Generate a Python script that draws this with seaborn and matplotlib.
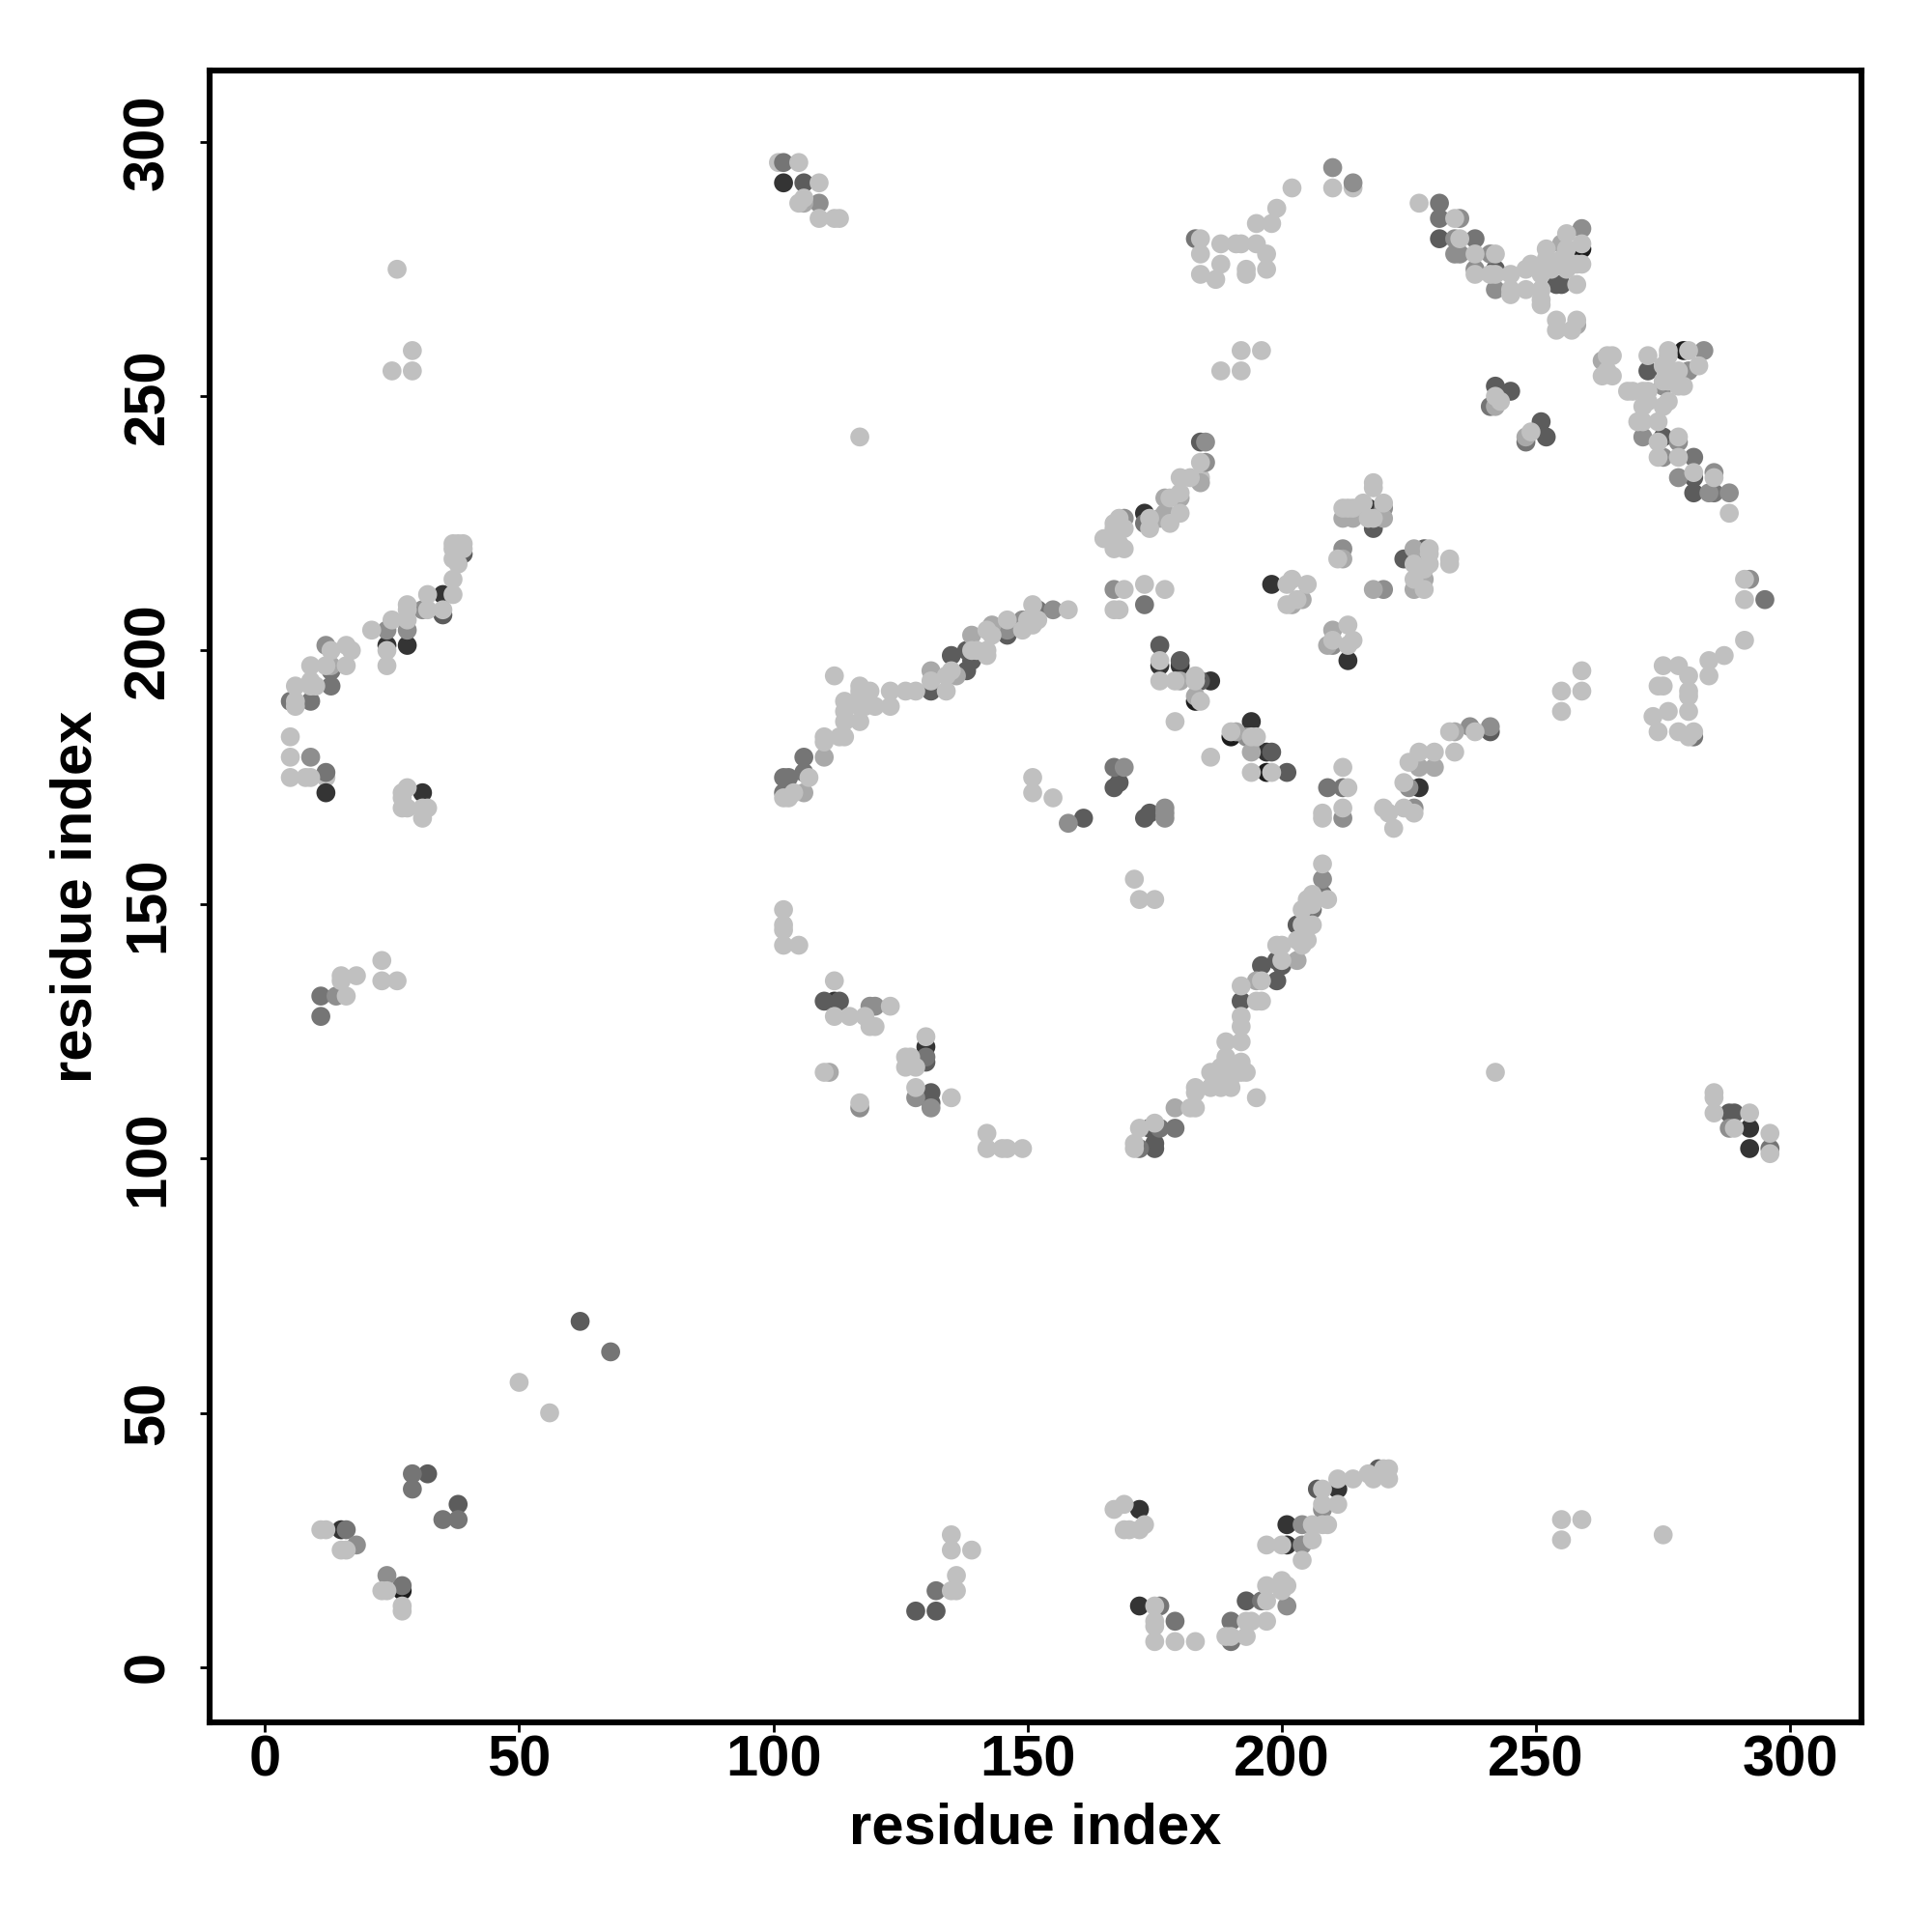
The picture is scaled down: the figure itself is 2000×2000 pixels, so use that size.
import matplotlib
matplotlib.use('Agg')
import matplotlib.pyplot as plt
import pandas as pd
import seaborn as sns

# contacts, grouped by shade, (residue i, residue j)
under = [(214,291),(12,175),(101,296),(184,234)]
black = [(183,190),(190,183),(197,176),(259,279),(279,259),(27,15)]
dark = [(173,227),(176,197),(180,197),(186,194),(194,186),(198,213),(213,198),(227,173),(217,228),
        (228,218),(102,292),(112,131),(130,122),(292,106),(292,102),(15,27),(172,31),(172,12),(201,24),(201,28),(211,35),
        (35,211),(24,201),(28,201),(12,172),(31,172),(197,180)]
mid_dark = [(184,241),(176,201),(184,194),(180,198),(198,180),(201,176),(167,173),(168,174),(161,167),
            (173,167),(174,168),(218,224),(224,218),(228,220),(241,184),(146,203),(138,200),(139,198),(135,199),(138,196),
            (203,146),(199,139),(200,138),(196,138),(199,135),(174,106),(231,281),(242,275),(255,272),(254,272),(242,252),
            (245,251),(251,245),(252,242),(275,242),(281,234),(281,231),(272,255),(131,192),(192,131),(175,102),(175,103),
            (106,292),(113,131),(110,131),(131,113),(131,111),(130,119),(288,109),(289,109),(62,68),(32,38),
            (38,32),(39,219),(35,207),(207,35),(193,13),(219,39),(128,11),(132,11)]
mid = [(209,173),(212,173),(167,177),(102,175),(103,175),(102,172),(106,179),(106,176),(152,208),(206,149),(208,152),(176,106),
       (179,106),(172,102),(231,288),(231,285),(238,281),(281,238),(285,231),(241,248),(248,241),(281,183),(102,296),(11,132),
       (11,128),(130,120),(296,102),(295,210),(16,27),(27,16),(29,38),(29,35),(35,29),(38,29),(132,15),(176,12),(179,9),(190,9),
       (190,5),(196,13),(13,193),(9,190),(5,190),(13,196),(12,176),(173,225),(173,209),(183,281),(68,62)]
mid_light = [(210,295),(214,292),(158,166),(169,226),(167,212),(193,183),(169,177),(177,169),(177,167),(177,168),(212,167),
             (225,173),(226,169),(220,228),(237,185),(241,185),(185,241),(185,237),(155,208),(149,206),(208,155),(234,278),(235,278),
             (234,281),(235,285),(238,275),(241,278),(242,271),(259,283),(283,259),(280,255),(275,238),
             (278,234),(285,235),(288,231),(284,231),(278,241),(271,242),(275,252),(146,204),(210,201),(212,220),(220,212),
             (119,130),(120,130),(109,288),(117,110),(128,112),(131,110),(288,106),(292,214),(14,132),(18,24),(24,18),(204,28),
             (204,24),(208,31),(201,12),(12,201),(9,179),(24,204),(28,204),(31,208)]
soft = [(177,230),(180,230),(177,227),(176,226),(184,233),(183,191),(180,194),(191,184),(194,180),(204,210),(202,209),(210,204),
        (209,201),(212,218),(218,212),(226,220),(226,212),(228,214),(212,226),(214,226),(220,226),(227,177),(230,177),(234,184),
        (139,203),(136,195),(110,179),(106,172),(203,139),(195,135),(179,110),(251,275),(255,280),(258,264),(263,257),(248,242),
        (242,248),(106,288),(111,117),(13,197),(143,205),(131,196)]
light = [(210,291),(202,291),(199,287),(195,284),(198,284),(184,281),(184,278),(188,280),(191,280),(192,280),(195,280),(197,278),
         (188,276),(184,274),(187,273),(193,275),(193,274),(197,275),(192,259),(196,259),(188,255),(192,255),(184,237),(180,234),
         (182,234),(178,230),(180,231),(180,227),(174,226),(174,224),(178,225),(168,226),(167,225),(169,224),(167,224),
         (165,222),(167,220),(169,220),(168,221),(169,212),(173,213),(177,212),(158,208),(167,208),(168,208),(176,198),(176,194),
         (179,194),(183,195),(183,194),(184,190),(179,186),(190,184),(194,183),(195,183),(194,176),(198,176),(186,179),(208,167),
         (208,168),(212,177),(213,173),(212,169),(220,169),(221,168),(222,165),(224,169),(226,168),(224,174),(225,178),(227,180),
         (230,180),(233,184),(234,180),(238,184),(202,214),(205,213),(201,213),(201,209),(203,210),(213,205),(210,202),(214,202),
         (213,201),(211,218),(218,233),(218,232),(212,228),(213,228),(214,228),(216,229),(217,226),(220,229),(218,226),(228,216),
         (229,220),(226,217),(229,217),(233,218),(233,217),(226,214),(228,212),(229,219),(151,209),(152,206),(151,205),(150,206),
         (149,204),(146,206),(143,203),(142,204),(142,200),(142,199),(140,200),(139,200),(135,196),(134,195),(131,194),(134,192),
         (128,192),(126,192),(123,192),(123,189),(120,189),(117,193),(119,192),(118,192),(117,192),(117,191),(118,191),(114,190),
         (114,188),(117,189),(118,189),(117,186),(114,186),(112,195),(110,183),(110,182),(113,183),(114,183),(107,175),(102,171),
         (103,171),(104,172),(151,175),(151,172),(155,171),(171,155),(172,151),(175,151),(208,158),(209,151),(206,152),(205,151),
         (206,150),(204,149),(206,146),(204,146),(205,146),(205,143),(203,143),(204,142),(199,142),(200,142),(200,139),(196,135),
         (192,134),(195,131),(196,131),(192,128),(192,126),(192,123),(189,123),(189,120),(192,119),(188,118),(189,118),(186,117),
         (187,117),(189,117),(190,117),(192,117),(193,117),(188,116),(190,116),(186,114),(188,114),(190,114),(183,114),(183,113),
         (195,112),(183,110),(182,110),(175,107),(172,106),(171,103),(171,102),(227,288),(234,285),(235,281),(238,278),(242,278),
         (238,274),(241,274),(242,274),(245,274),(245,271),(245,270),(248,275),(249,276),(248,271),(251,271),(251,274),(251,268),
         (251,269),(252,279),(252,277),(253,275),(255,276),(258,272),(256,282),(256,279),(255,277),(256,275),(258,276),(259,276),
         (259,280),(254,265),(254,263),(258,265),(257,263),(265,258),(264,258),(263,254),(264,255),(265,254),(272,258),(276,259),
         (276,258),(280,259),(282,256),(275,256),(276,255),(275,253),(276,253),(278,255),(279,252),(278,252),(268,251),(269,251),
         (271,251),(272,251),(271,248),(272,249),(275,248),(276,249),(271,245),(270,245),(274,245),(278,242),(274,241),(274,238),
         (278,238),(281,235),(285,234),(288,227),(242,250),(243,249),(249,243),(259,196),(255,192),(259,192),(255,188),(275,197),
         (278,197),(280,195),(284,198),(287,199),(284,195),(291,202),(274,193),(275,193),(280,192),(280,191),(280,188),(276,188),
         (273,187),(274,184),(278,184),(280,183),(281,184),(37,221),(39,221),(38,221),(37,220),(39,220),(37,218),(38,217),(37,214),
         (37,211),(32,211),(32,208),(35,208),(28,209),(28,208),(28,206),(25,206),(21,204),(24,200),(24,197),(13,200),(16,201),
         (17,200),(16,197),(9,197),(12,197),(6,193),(9,194),(10,193),(9,193),(6,190),(6,189),(5,183),(5,179),(5,175),(8,175),(9,175),
         (28,173),(27,172),(27,171),(27,169),(28,169),(32,169),(31,167),(31,169),(26,275),(29,259),(25,255),(29,255),(117,242),
         (242,117),(105,296),(109,292),(105,288),(106,289),(109,285),(112,285),(113,285),(15,136),(15,135),(18,136),(23,139),(23,135),
         (26,135),(16,132),(102,149),(102,146),(102,145),(102,142),(105,142),(112,135),(112,128),(115,128),(123,130),(119,126),
         (120,126),(118,128),(110,117),(117,111),(126,120),(126,118),(128,118),(127,120),(130,124),(128,114),(135,112),(142,105),
         (142,102),(145,102),(146,102),(149,102),(285,113),(285,112),(285,109),(292,109),(289,106),(296,105),(296,101),(291,214),
         (291,210),(50,56),(56,50),(11,27),(12,27),(15,23),(16,23),(23,15),(24,15),(27,12),(27,11),(135,15),(136,15),(136,18),
         (135,23),(135,26),(139,23),(169,32),(167,31),(169,27),(170,27),(172,27),(173,28),(175,12),(175,9),(175,8),(175,5),(179,5),
         (183,5),(189,6),(190,6),(193,6),(193,9),(194,9),(197,13),(197,9),(197,16),(200,17),(201,16),(200,15),(197,24),(200,24),
         (206,25),(204,21),(206,28),(208,28),(209,28),(208,32),(211,32),(208,35),(211,37),(214,37),(217,38),(220,39),(221,39),
         (218,37),(221,37),(255,29),(259,29),(255,25),(275,26)]

shades = ['under','black','dark','mid_dark','mid','mid_light','soft','light']
groups = [under,black,dark,mid_dark,mid,mid_light,soft,light]
colours = {'under':'#c0c0c0','black':'#1c1c1c','dark':'#343434','mid_dark':'#5c5c5c','mid':'#757575',
           'mid_light':'#8e8e8e','soft':'#a9a9a9','light':'#c0c0c0'}
xticks = [0,50,100,150,200,250,300]
yticks = [0,50,100,150,200,250,300]

rows = []
for name,g in zip(shades,groups):
    for p in g:
        rows.append((p[0],p[1],name))
df = pd.DataFrame(rows,columns=['i','j','shade'])

sns.set_theme(style='ticks')
plt.rcParams['font.family'] = ['Liberation Sans','DejaVu Sans']
fig = plt.figure(figsize=(10,10),dpi=200)
ax = fig.add_axes([217/2000,1-1783/2000,(1927-217)/2000,(1783-73)/2000])
sns.scatterplot(data=df,x='i',y='j',hue='shade',palette=colours,s=50,linewidth=0,alpha=1,legend=False,ax=ax)
ax.set_xlim(-10.87,314)
ax.set_ylim(-10.9,314.1)
ax.set_xticks(xticks)
ax.set_yticks(yticks)
ax.tick_params(axis='x',length=3.6,width=1,color='black',labelcolor='black',labelsize=21.5,pad=1)
ax.tick_params(axis='y',length=3.6,width=1,color='black',labelcolor='black',labelsize=21.5,pad=9.2)
for t in ax.get_xticklabels():
    t.set_fontweight('bold')
for t in ax.get_yticklabels():
    t.set_fontweight('bold')
    t.set_rotation(90)
    t.set_va('center')
ax.set_xlabel('residue index',fontsize=21.5,fontweight='bold',color='black',va='center')
ax.set_ylabel('residue index',fontsize=21.5,fontweight='bold',color='black',va='center')
ax.xaxis.set_label_coords(0.5,-0.0643)
ax.yaxis.set_label_coords(-0.0807,0.5)
for s in ax.spines.values():
    s.set_linewidth(2.2)
    s.set_color('black')
fig.savefig('out.png',dpi=200)
